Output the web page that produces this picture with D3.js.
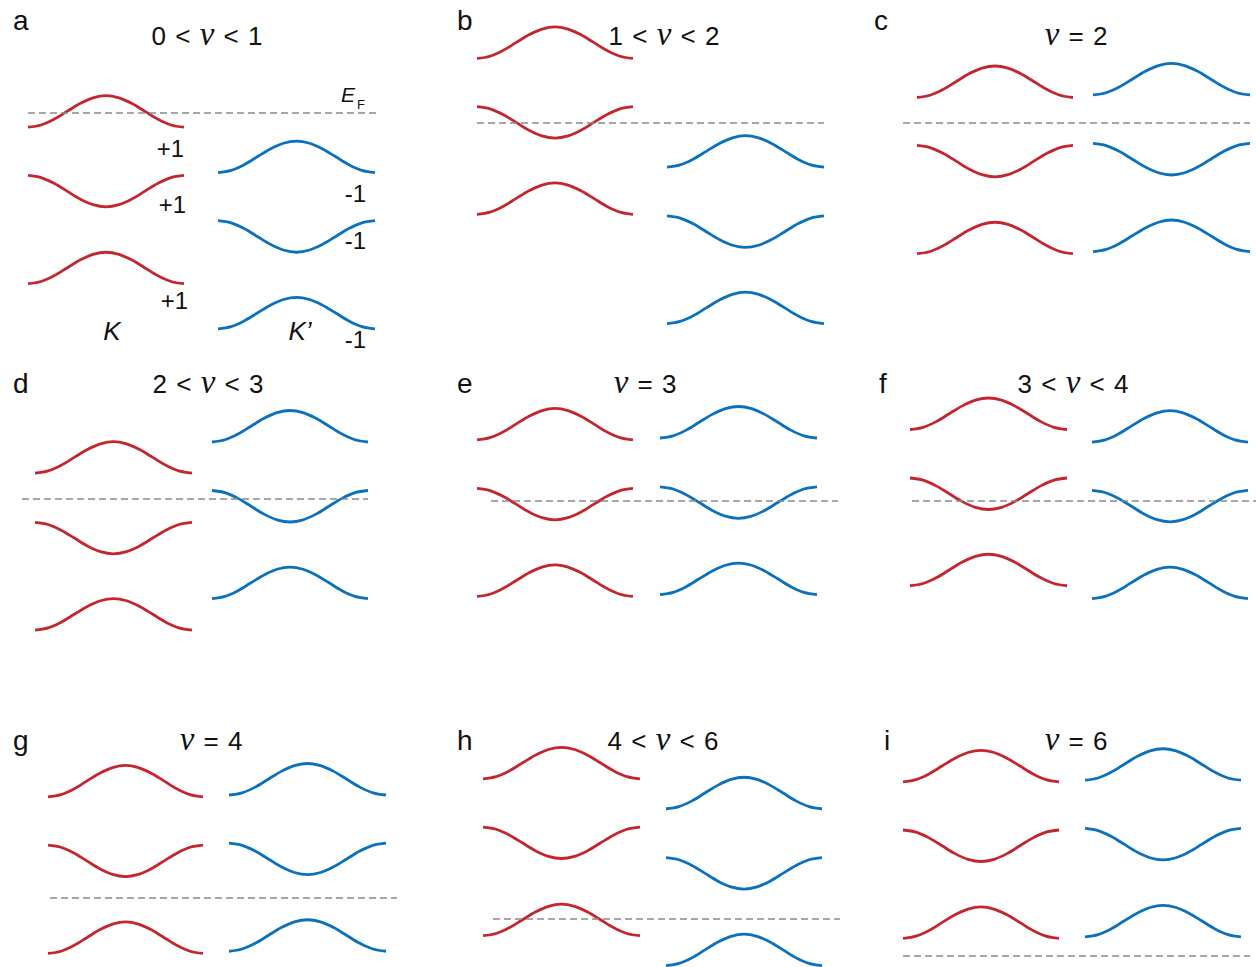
<!DOCTYPE html>
<html>
<head>
<meta charset="utf-8">
<script src="https://cdn.jsdelivr.net/npm/d3@7"></script>
<style>
  body { margin: 0; background: #fff; }
  svg { display: block; }
  text { font-family: "Liberation Sans", Arial, sans-serif; fill: #111; white-space: pre; }
</style>
</head>
<body>
<div id="chart"></div>
<script>
// ---- data: band centre energies relative to E_F (units of one bandwidth) ----
const panelIds = ["a", "b", "c", "d", "e", "f", "g", "h", "i"];
const fillingLabels = ["0 < ν < 1", "1 < ν < 2", "ν = 2", "2 < ν < 3", "ν = 3",
                       "3 < ν < 4", "ν = 4", "4 < ν < 6", "ν = 6"];

// K valley (red), three bands per panel, top to bottom
const redBandEnergies = [
  [0.05, -2.48, -4.92],
  [2.55, 0.02, -2.40],
  [1.31, -1.21, -3.65],
  [1.32, -1.24, -3.66],
  [2.44, -0.10, -2.53],
  [2.77, 0.23, -2.19],
  [3.71, 1.18, -1.26],
  [4.95, 2.42, -0.03],
  [6.03, 3.50, 1.06]
];
// K' valley (blue)
const blueBandEnergies = [
  [-1.39, -3.92, -6.35],
  [-0.90, -3.45, -5.87],
  [1.39, -1.15, -3.58],
  [2.31, -0.23, -2.66],
  [2.50, -0.05, -2.47],
  [2.37, -0.16, -2.60],
  [3.77, 1.24, -1.19],
  [4.00, 1.45, -0.98],
  [6.08, 3.55, 1.11]
];
// +1 = band maximum at the valley centre, -1 = minimum
const bandShapes = [1, -1, 1];
// dispersion profile of one band (momentum k, energy relative to band centre)
const bandProfileK = [-1, -0.833, -0.667, -0.5, -0.333, -0.167, 0, 0.167, 0.333, 0.5, 0.667, 0.833, 1];
const bandProfileE = [-0.5, -0.43, -0.25, 0, 0.25, 0.43, 0.5, 0.43, 0.25, 0, -0.25, -0.43, -0.5];
// Chern numbers shown in panel a
const chernK = ["+1", "+1", "+1"];
const chernKp = ["-1", "-1", "-1"];
const fermiLevel = 0;

// ---- layout (pixels) ----
const width = 1256, height = 967;
const bandPx = 31.5; // pixels per bandwidth
const layout = [
  { redX: [28, 184],  blueX: [218, 375],  yEF: 113, dash: [28, 376],   titleX: 207,  titleY: 45,  labelX: 13,  labelY: 30 },
  { redX: [477, 633], blueX: [667, 824],  yEF: 123, dash: [477, 824],  titleX: 664,  titleY: 45,  labelX: 457, labelY: 30 },
  { redX: [917, 1073], blueX: [1093, 1250], yEF: 123, dash: [903, 1250], titleX: 1076, titleY: 45,  labelX: 874, labelY: 30 },
  { redX: [35, 192],  blueX: [212, 368],  yEF: 499, dash: [22, 368],   titleX: 208,  titleY: 393, labelX: 13,  labelY: 393 },
  { redX: [477, 633], blueX: [660, 817],  yEF: 501, dash: [491, 838],  titleX: 645,  titleY: 393, labelX: 457, labelY: 393 },
  { redX: [910, 1067], blueX: [1092, 1248], yEF: 501, dash: [912, 1256], titleX: 1073, titleY: 393, labelX: 879, labelY: 393 },
  { redX: [48, 203],  blueX: [229, 386],  yEF: 898, dash: [50, 397],   titleX: 211,  titleY: 750, labelX: 13,  labelY: 750 },
  { redX: [483, 640], blueX: [666, 822],  yEF: 919, dash: [493, 840],  titleX: 663,  titleY: 750, labelX: 457, labelY: 750 },
  { redX: [903, 1059], blueX: [1085, 1241], yEF: 956, dash: [903, 1250], titleX: 1076, titleY: 750, labelX: 884, labelY: 750 }
];
const chernKPos = [[184, 157], [186, 213], [188, 309]];
const chernKpPos = [[366, 202], [366, 249], [366, 348]];

const red = "#c4262e", blue = "#0a71bd";

const svg = d3.select("#chart").append("svg")
  .attr("width", width)
  .attr("height", height)
  .attr("viewBox", [0, 0, width, height]);

panelIds.forEach((id, p) => {
  const L = layout[p];
  const g = svg.append("g").attr("class", "panel-" + id);

  const y = d3.scaleLinear().domain([0, 1]).range([L.yEF, L.yEF - bandPx]);

  // panel letter
  g.append("text")
    .attr("x", L.labelX).attr("y", L.labelY)
    .attr("font-size", 28)
    .text(id);

  // filling factor title, nu in serif italic
  const parts = fillingLabels[p].split("ν");
  const t = g.append("text")
    .attr("x", L.titleX).attr("y", L.titleY)
    .attr("text-anchor", "middle")
    .attr("font-size", 26)
    .attr("word-spacing", 2);
  t.append("tspan").text(parts[0]);
  t.append("tspan")
    .style("font-family", "'Liberation Serif', 'Times New Roman', serif")
    .style("font-style", "italic")
    .attr("font-size", 33)
    .text("ν");
  t.append("tspan").text(parts[1]);

  // bands
  const drawValley = (energies, xRange, color) => {
    const x = d3.scaleLinear().domain([-1, 1]).range(xRange);
    const line = d3.line()
      .x(d => x(d[0]))
      .y(d => y(d[1]))
      .curve(d3.curveMonotoneX);
    g.append("g").selectAll("path")
      .data(energies.map((e, i) => bandProfileK.map((k, j) => [k, e + bandShapes[i] * bandProfileE[j]])))
      .join("path")
      .attr("d", line)
      .attr("fill", "none")
      .attr("stroke", color)
      .attr("stroke-width", 2.8);
  };
  drawValley(redBandEnergies[p], L.redX, red);
  drawValley(blueBandEnergies[p], L.blueX, blue);

  // Fermi level
  g.append("line")
    .attr("x1", L.dash[0]).attr("x2", L.dash[1])
    .attr("y1", y(fermiLevel)).attr("y2", y(fermiLevel))
    .attr("stroke", "#8a8a8a")
    .attr("stroke-width", 1.4)
    .attr("stroke-dasharray", "7,4");
});

// annotations in panel a
const ga = svg.select(".panel-a");
ga.selectAll("text.chk")
  .data(chernK)
  .join("text")
  .attr("class", "chk")
  .attr("x", (d, i) => chernKPos[i][0])
  .attr("y", (d, i) => chernKPos[i][1])
  .attr("text-anchor", "end")
  .attr("font-size", 24)
  .text(d => d);
ga.selectAll("text.chkp")
  .data(chernKp)
  .join("text")
  .attr("class", "chkp")
  .attr("x", (d, i) => chernKpPos[i][0])
  .attr("y", (d, i) => chernKpPos[i][1])
  .attr("text-anchor", "end")
  .attr("font-size", 24)
  .text(d => d);

ga.append("text")
  .attr("x", 112).attr("y", 340)
  .attr("text-anchor", "middle")
  .attr("font-size", 26)
  .style("font-style", "italic")
  .text("K");
ga.append("text")
  .attr("x", 300).attr("y", 340)
  .attr("text-anchor", "middle")
  .attr("font-size", 26)
  .style("font-style", "italic")
  .text("K’");

ga.append("text")
  .attr("x", 341).attr("y", 102)
  .attr("font-size", 21)
  .style("font-style", "italic")
  .attr("fill", "#222")
  .text("E");
ga.append("text")
  .attr("x", 357).attr("y", 109)
  .attr("font-size", 13)
  .attr("fill", "#333")
  .text("F");
</script>
</body>
</html>
